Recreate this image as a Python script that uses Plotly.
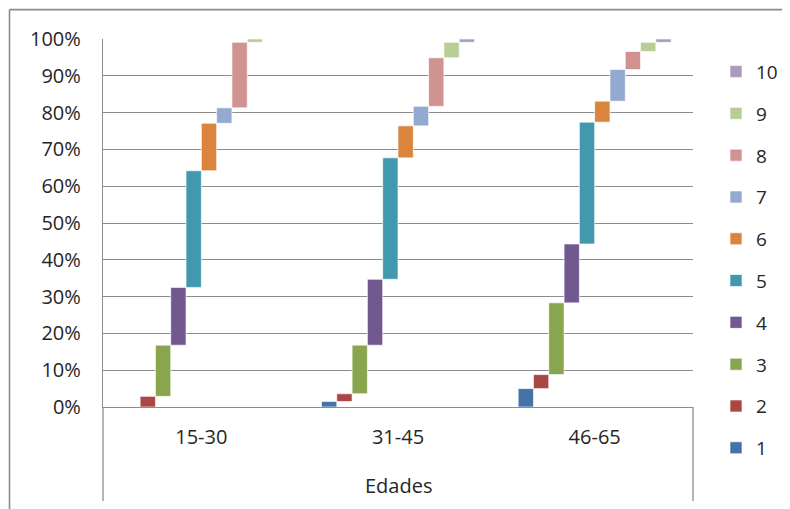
import numpy as np
import plotly.graph_objects as go

categories = ["15-30", "31-45", "46-65"]
series_names = ["1", "2", "3", "4", "5", "6", "7", "8", "9", "10"]

# share (%) of each series per age group (segments stack to 100%)
g_15_30 = [0.0, 2.9, 13.9, 15.7, 31.7, 12.9, 4.2, 17.8, 0.9, 0.0]
g_31_45 = [1.5, 2.1, 13.2, 17.9, 33.0, 8.7, 5.3, 13.2, 4.2, 0.9]
g_46_65 = [5.0, 3.8, 19.5, 16.0, 33.1, 5.7, 8.6, 4.9, 2.5, 0.9]

colors = ["#4572A7", "#AA4643", "#89A54E", "#71588F", "#4198AF",
          "#DB843D", "#93A9CF", "#D19392", "#B9CD96", "#A99BBD"]

groups = np.array([g_15_30, g_31_45, g_46_65])          # shape (3, 10)
bases = np.cumsum(groups, axis=1) - groups               # floating bar bases

FONT = "Open Sans"
FS = 20
TXT = "#262626"
GRID = "#8c8c8c"

fig = go.Figure()
for i, name in enumerate(series_names):
    fig.add_trace(go.Bar(
        x=categories,
        y=groups[:, i],
        base=bases[:, i],
        name=name,
        legendgroup=name,
        legendrank=1000 - i,
        marker=dict(color=colors[i], line=dict(color="rgba(255,255,255,0.8)", width=0.8)),
    ))

# page offset (browser body margin) and plot area geometry in page pixels
OFF = 8
W, H = 790 - OFF, 509 - OFF
L, R, T, B = 103 - OFF, 693 - OFF, 39.3 - OFF, 406.7 - OFF
pw, ph = R - L, B - T

def px_x(x):
    return (x - OFF - L) / pw

def px_y(y):
    return (B - (y - OFF)) / ph

shapes = [
    # category box lines below the axis
    dict(type="line", xref="paper", yref="paper", x0=0, x1=0, y0=0, y1=px_y(500.5),
         line=dict(color=GRID, width=1.3)),
    dict(type="line", xref="paper", yref="paper", x0=1, x1=1, y0=0, y1=px_y(500.5),
         line=dict(color=GRID, width=1.3)),
    # outer chart border (partly cropped)
    dict(type="line", xref="paper", yref="paper", x0=px_x(9.5), x1=px_x(800), y0=px_y(10), y1=px_y(10),
         line=dict(color=GRID, width=1.6)),
    dict(type="line", xref="paper", yref="paper", x0=px_x(9.5), x1=px_x(9.5), y0=px_y(10), y1=px_y(520),
         line=dict(color=GRID, width=1.6)),
]

fig.update_layout(
    width=W, height=H,
    margin=dict(l=L, r=W - R, t=T, b=H - B, pad=0, autoexpand=False),
    paper_bgcolor="white", plot_bgcolor="white",
    barmode="group", bargap=0.222, bargroupgap=0,
    font=dict(family=FONT, size=FS, color=TXT),
    showlegend=True,
    legend=dict(
        x=px_x(716), xanchor="left", y=px_y(53), yanchor="top",
        traceorder="grouped", tracegroupgap=14.1, maxheight=600,
        font=dict(family=FONT, size=FS - 1, color=TXT),
        bgcolor="rgba(0,0,0,0)",
    ),
    shapes=shapes,
    annotations=[dict(text="Edades", xref="paper", yref="paper", x=0.5, y=px_y(485),
                      xanchor="center", yanchor="middle", showarrow=False,
                      font=dict(family=FONT, size=FS, color=TXT))],
)

fig.update_yaxes(
    range=[0, 100], dtick=10, ticksuffix="%", automargin=False,
    showgrid=True, gridcolor=GRID, gridwidth=1,
    showline=True, linecolor=GRID, linewidth=1.3,
    zeroline=False, ticks="", ticklabelstandoff=17,
    tickfont=dict(family=FONT, size=FS, color=TXT),
)
fig.update_xaxes(
    type="category", showgrid=False, automargin=False,
    showline=True, linecolor=GRID, linewidth=1.3,
    ticks="", ticklabelstandoff=12,
    tickfont=dict(family=FONT, size=FS, color=TXT),
)

fig.write_html("out.html")
